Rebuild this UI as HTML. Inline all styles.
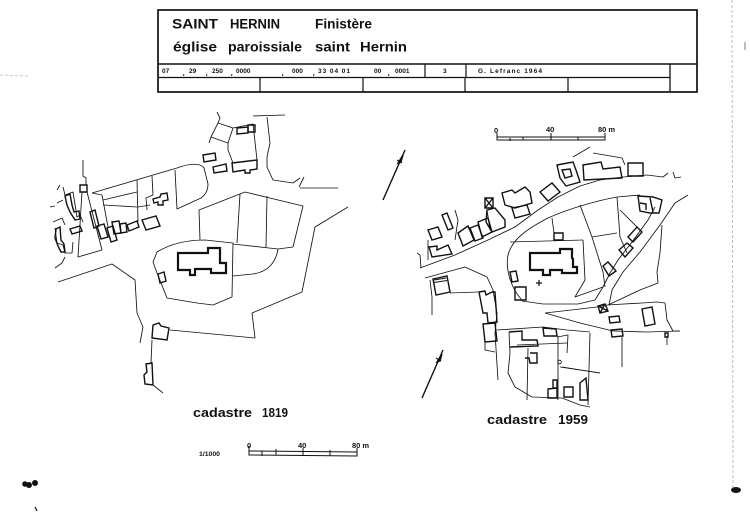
<!DOCTYPE html>
<html><head><meta charset="utf-8"><style>
html,body{margin:0;padding:0;background:#fff;}
svg{display:block;}
text{font-family:"Liberation Sans",sans-serif;fill:#111;}
</style></head><body>
<svg width="750" height="512" viewBox="0 0 750 512" xmlns="http://www.w3.org/2000/svg">
<rect width="750" height="512" fill="#fff"/>

<!-- margin marks -->
<line x1="732" y1="0" x2="733" y2="488" stroke="#bbb" stroke-width="1" stroke-dasharray="3,2"/>
<ellipse cx="736" cy="490" rx="5" ry="3" fill="#111"/>
<line x1="745" y1="42" x2="745" y2="50" stroke="#555" stroke-width="0.8"/>
<line x1="0" y1="75" x2="28" y2="76" stroke="#bbb" stroke-width="0.8" stroke-dasharray="3,2"/>
<circle cx="25" cy="484" r="2.8" fill="#111"/><circle cx="29" cy="485" r="3" fill="#111"/><circle cx="35" cy="483" r="3" fill="#111"/>
<line x1="35" y1="507" x2="37" y2="511" stroke="#111" stroke-width="1.2"/>

<!-- header box -->
<g fill="none" stroke="#111">
<rect x="158" y="10" width="539" height="82" stroke-width="1.7"/>
<line x1="158" y1="64" x2="697" y2="64" stroke-width="1.5"/>
<line x1="158" y1="77.5" x2="670" y2="77.5" stroke-width="1.3"/>
<line x1="670" y1="64" x2="670" y2="92" stroke-width="1.3"/>
<line x1="425" y1="64" x2="425" y2="77.5" stroke-width="1.2"/>
<line x1="466" y1="64" x2="466" y2="77.5" stroke-width="1.2"/>
<line x1="260" y1="77.5" x2="260" y2="92" stroke-width="1.2"/>
<line x1="363" y1="77.5" x2="363" y2="92" stroke-width="1.2"/>
<line x1="465" y1="77.5" x2="465" y2="92" stroke-width="1.2"/>
<line x1="568" y1="77.5" x2="568" y2="92" stroke-width="1.2"/>
</g>
<g font-size="13.5" font-weight="bold">
<text x="172" y="28.5" textLength="46" lengthAdjust="spacingAndGlyphs">SAINT</text>
<text x="230" y="28.5" textLength="50" lengthAdjust="spacingAndGlyphs">HERNIN</text>
<text x="315" y="28.5" textLength="57" lengthAdjust="spacingAndGlyphs">Finistère</text>
<text x="173" y="51.5" textLength="44" lengthAdjust="spacingAndGlyphs">église</text>
<text x="228" y="51.5" textLength="74" lengthAdjust="spacingAndGlyphs">paroissiale</text>
<text x="315" y="51.5" textLength="35" lengthAdjust="spacingAndGlyphs">saint</text>
<text x="360" y="51.5" textLength="47" lengthAdjust="spacingAndGlyphs">Hernin</text>
</g>
<g font-size="6.5" font-weight="bold">
<text x="162" y="73">07</text>
<text x="189" y="73">29</text>
<text x="212" y="73">250</text>
<text x="236" y="73">0000</text>
<text x="292" y="73">000</text>
<text x="318" y="73" textLength="32" lengthAdjust="spacing">33 04 01</text>
<text x="374" y="73">00</text>
<text x="395" y="73">0001</text>
<text x="443" y="73">3</text>
<text x="478" y="73" textLength="64" lengthAdjust="spacing">G. Lefranc  1964</text>
</g>
<g stroke="#111" stroke-width="0.9">
<line x1="184" y1="74" x2="183.5" y2="76"/><line x1="207" y1="74" x2="206.5" y2="76"/><line x1="232" y1="74" x2="231.5" y2="76"/>
<line x1="283" y1="74" x2="282.5" y2="76"/><line x1="314" y1="74" x2="313.5" y2="76"/><line x1="389" y1="74" x2="388.5" y2="76"/>
</g>

<!-- LEFT MAP 1819 -->
<g fill="none" stroke="#111" stroke-width="0.85" stroke-linejoin="round">
<!-- top right cluster -->
<path d="M217,112 L220,118 L218,123 L211,137 L209,143"/>
<path d="M218,123 L233,128 L228,143 L211,137"/>
<path d="M233,128 L253,124 L257,160 L233,163 L228,150 L228,143"/>
<path d="M253,116 L285,115"/>
<path d="M267,117 L270,143 L267,157 L267,167 L273,180 L293,183 L300,178"/>
<path d="M304,177 L299,187 M300,188 L338,188"/>
<!-- main parcels -->
<path d="M92,193 L177,168 C190,163 201,163 204,168 L208,184 Q208,193 201,198 L177,209 L175,170"/>
<path d="M103,200 L137,192"/>
<path d="M103,205 L137,207"/>
<path d="M137,180 L138,222"/>
<path d="M152,176 L153,195 L146,198 L147,210"/>
<path d="M138,207 L150,205"/>
<!-- strip -->
<path d="M82,192 L78,257 L102,250 L87,192"/>
<path d="M92,193 L102,195 L108,227"/>
<path d="M83,168 L83,176 L86,178 L86,185"/>
<path d="M83,160 L83,168"/>
<!-- far left -->
<path d="M63,187 L65,195 L73,192 L77,217 L80,215 L83,222"/>
<path d="M57,203 L63,200 M53,222 L62,218 L65,225"/>
<path d="M55,228 L57,243 L63,245 L65,253 L72,253 L73,242"/>
<path d="M65,257 L62,263 L55,268"/>
<path d="M57,190 L60,185 M50,207 L55,206"/>
<!-- church parcel -->
<path d="M157,252 C170,244 185,240 205,240 L233,243 L232,297 L213,305 L197,303 L167,298 L157,273 L153,262 Z"/>
<path d="M233,244 L278,249 C276,262 268,272 253,274 L233,276"/>
<path d="M200,240 L199,210 L245,192 L303,206 L293,247 L278,249"/>
<path d="M240,194 L237,243 M267,196 L266,247"/>
<!-- roads -->
<path d="M58,282 L112,264 L135,280 L137,313 L143,327 L140,343"/>
<path d="M170,330 L255,338 L252,313 L302,292 L315,227 L348,207"/>
<path d="M152,340 L151,363"/>
<path d="M153,385 L163,393"/>
</g>
<g fill="none" stroke="#111" stroke-width="1.4" stroke-linejoin="miter">
<path d="M203,155 L215,153 L216,160 L204,162 Z"/>
<path d="M213,167 L226,164 L227,171 L214,173 Z"/>
<path d="M237,128 L248,127 L248,133 L237,134 Z"/>
<path d="M248,125 L255,125 L255,132 L248,132 Z"/>
<path d="M232,163 L257,160 L257,169 L250,170 L250,173 L245,173 L245,170 L233,172 Z"/>
<path d="M80,185 L87,185 L87,192 L80,192 Z"/>
<path d="M90,212 L95,210 L99,226 L94,228 Z"/>
<path d="M97,226 L104,224 L108,237 L101,239 Z"/>
<path d="M107,228 L113,226 L117,240 L111,242 Z"/>
<path d="M112,222 L119,221 L121,233 L114,234 Z"/>
<path d="M120,224 L126,223 L127,232 L121,233 Z"/>
<path d="M127,225 L137,221 L139,227 L129,231 Z"/>
<path d="M142,220 L156,216 L160,226 L146,230 Z"/>
<path d="M153,199 L160,197 L161,194 L167,193 L168,200 L163,201 L163,205 L158,205 L158,202 L154,203 Z"/>
<path d="M70,229 L80,226 L82,231 L72,234 Z"/>
<path d="M65,196 L70,194 L72,205 L74,212 L79,211 L80,219 L75,220 L70,212 L67,205 Z"/>
<path d="M56,229 L60,227 L61,240 L64,244 L65,252 L61,252 L58,246 L55,238 Z"/>
<path d="M158,274 L164,272 L166,281 L160,283 Z"/>
<path d="M153,325 L159,323 L161,326 L169,328 L167,340 L152,338 Z"/>
<path d="M146,364 L152,363 L153,385 L145,384 L144,375 L147,372 Z"/>
</g>
<path d="M178,253 L208,253 L208,248 L220,248 L220,263 L226,263 L226,273 L211,273 L211,269 L195,269 L195,275 L190,275 L190,270 L178,270 Z" fill="none" stroke="#111" stroke-width="2.2"/>

<!-- RIGHT MAP 1959 -->
<g fill="none" stroke="#111" stroke-width="0.85" stroke-linejoin="round">
<!-- upper street -->
<path d="M420,268 L455,255 L488,240 L515,227 L538,210 L558,197 L580,186 L600,180 L623,177 L647,175 L663,177 L668,173"/>
<path d="M673,172 L675,178 L681,177"/>
<path d="M573,157 L590,147"/>
<path d="M593,153 L622,158 L625,165"/>
<path d="M417,253 L420,255 L421,268"/>
<path d="M428,240 L428,260"/>
<path d="M455,210 L458,220 L455,240"/>
<path d="M487,210 L490,230"/>
<!-- enclosure -->
<path d="M522,300 C512,290 505,270 508,255 C512,240 525,230 548,218 C570,208 600,200 617,197 L640,195"/>
<path d="M510,242 L583,240"/>
<path d="M552,218 L554,233"/>
<path d="M580,205 L592,237 L603,272 L605,287"/>
<path d="M592,237 L617,233"/>
<path d="M617,197 L620,237 L627,253"/>
<path d="M620,210 L640,230"/>
<path d="M583,240 L585,280 L575,297 L603,287"/>
<path d="M522,301 L543,304 L578,304 L595,300"/>
<!-- diagonal road -->
<path d="M688,195 L675,203 L660,225 L640,252 L623,272 L612,290 L609,305"/>
<path d="M655,207 L648,220 L632,242 L618,260 L610,273 L603,287 L595,300"/>
<path d="M662,225 L660,253 L657,272 L658,283 L640,290 L608,305"/>
<!-- lower street -->
<path d="M545,313 L580,309 L597,307 L607,305"/>
<path d="M545,313 L580,323 L613,331 L647,332 L680,331"/>
<path d="M497,330 L543,327 L567,330 L590,332"/>
<path d="M607,305 L642,303 L657,302 L665,303 L667,320 L673,331 L680,331"/>
<path d="M667,337 L667,345 M622,337 L622,367 M590,333 L588,405 M560,367 L600,373"/>
<!-- left of right map -->
<path d="M425,278 L465,267 L487,277 L493,290 L497,313 L495,333 L498,380"/>
<path d="M430,280 L432,297 L432,315"/>
<path d="M450,293 L478,292"/>
<path d="M485,340 L485,350 L495,352"/>
<!-- bottom block -->
<path d="M509,332 L510,353 L508,373 L515,387 L532,397 L562,398 L580,405 L590,407"/>
<path d="M517,345 L567,343"/>
<path d="M528,348 L527,400"/>
<path d="M558,337 L558,400"/>
<path d="M557,337 L568,335 L567,353"/>
<path d="M562,367 L600,373"/>
<circle cx="559.5" cy="362" r="1.8"/>
<!-- scale bar top -->
</g>
<g fill="none" stroke="#111" stroke-width="1.4" stroke-linejoin="miter">
<!-- upper buildings -->
<path d="M583,165 L601,162 L603,169 L620,167 L622,178 L584,180 Z"/>
<path d="M628,163 L643,163 L643,176 L628,176 Z"/>
<path d="M557,165 L573,162 L576,170 L580,182 L566,186 L560,178 Z"/>
<path d="M562,170 L570,169 L572,176 L565,178 Z"/>
<path d="M540,192 L552,183 L560,192 L548,201 Z"/>
<path d="M502,193 L512,190 L515,193 L525,187 L530,192 L532,203 L515,208 L505,205 Z"/>
<path d="M512,208 L527,205 L530,214 L515,218 Z"/>
<path d="M485,198 L493,198 L493,208 L485,208 Z M485,198 L493,208 M493,198 L485,208"/>
<path d="M487,210 L495,208 L505,220 L505,227 L492,232 L486,222 Z"/>
<path d="M478,222 L488,218 L492,232 L482,237 Z"/>
<path d="M470,228 L478,225 L483,238 L475,241 Z"/>
<path d="M458,233 L468,226 L474,240 L463,246 Z"/>
<path d="M442,215 L447,213 L453,228 L448,230 Z"/>
<path d="M428,230 L438,227 L442,237 L432,240 Z"/>
<path d="M429,247 L437,246 L437,250 L448,245 L452,254 L432,257 Z"/>
<!-- enclosure buildings -->
<path d="M554,233 L563,233 L563,240 L554,240 Z"/>
<path d="M510,272 L516,271 L518,281 L512,282 Z"/>
<path d="M515,287 L526,287 L526,300 L515,300 Z"/>
<path d="M628,237 L637,227 L642,232 L633,242 Z"/>
<path d="M619,250 L627,243 L633,248 L625,257 Z"/>
<path d="M603,266 L608,262 L616,271 L609,276 Z"/>
<path d="M638,196 L653,197 L662,200 L659,213 L650,213 L640,211 Z"/>
<path d="M650,198 L653,212 M640,203 L646,204 L646,210"/>
<!-- lower right buildings -->
<path d="M598,306 L605,304 L608,311 L600,313 Z M598,306 L608,311 M605,304 L600,313"/>
<path d="M609,317 L619,316 L620,322 L610,323 Z"/>
<path d="M611,330 L622,329 L623,336 L612,337 Z"/>
<path d="M642,309 L652,307 L655,324 L645,326 Z"/>
<path d="M665,333 L668,333 L668,337 L665,337 Z"/>
<!-- left buildings -->
<path d="M433,279 L447,276 L450,292 L436,295 Z"/>
<path d="M479,292 L485,291 L486,295 L492,292 L495,292 L497,322 L488,323 L487,313 L483,313 Z"/>
<path d="M483,324 L495,323 L497,341 L485,342 Z"/>
<!-- bottom buildings -->
<path d="M509,332 L522,331 L522,340 L537,340 L538,346 L510,347"/>
<path d="M543,328 L556,329 L557,336 L544,336 Z"/>
<path d="M530,353 L537,353 L537,363 L530,363 L529,358 L525,358"/>
<path d="M553,380 L557,380 L557,388 L553,388 Z"/>
<path d="M548,389 L557,388 L557,398 L548,398 Z"/>
<path d="M564,387 L573,387 L573,397 L564,397 Z"/>
<path d="M580,383 L586,378 L588,400 L580,400 Z"/>
</g>
<g stroke="#111" stroke-width="0.9">
<line x1="434" y1="280" x2="446" y2="278"/><line x1="434" y1="282.5" x2="447" y2="280.5"/>
</g>
<path d="M530,253 L560,253 L560,249 L572,249 L572,258 L573,259 L573,267 L577,267 L577,273 L562,273 L562,270 L550,270 L550,275 L543,275 L543,270 L530,270 Z" fill="none" stroke="#111" stroke-width="2.2"/>
<path d="M539,280 L539,286 M536,283 L542,283" stroke="#111" stroke-width="1.2"/>

<!-- north arrows -->
<g stroke="#111" stroke-width="1.4" fill="#111">
<line x1="383" y1="200" x2="405" y2="150"/>
<path d="M398,163 L403,155 L401,162 Z"/>
<line x1="397" y1="160" x2="402" y2="163" stroke-width="1.1"/>
<line x1="422" y1="398" x2="443" y2="350"/>
<path d="M437,362 L442,354 L440,361 Z"/>
<line x1="436" y1="358" x2="441" y2="361" stroke-width="1.1"/>
</g>

<!-- scale bar top right -->
<g fill="none" stroke="#111" stroke-width="1">
<path d="M497,137 L605,137 L605,140 L497,140 Z"/>
<path d="M497,133 L497,140 M523,137 L523,140 M551,133 L551,140 M578,137 L578,140 M605,133 L605,140 M510,138 L510,141"/>
</g>
<g font-size="7.5" font-weight="bold">
<text x="494" y="133">0</text>
<text x="546" y="132">40</text>
<text x="598" y="132">80 m</text>
</g>

<!-- scale bar bottom -->
<g fill="none" stroke="#111" stroke-width="1">
<path d="M249,451 L357,452 L357,456 L249,455 Z"/>
<path d="M249,446 L249,455 M262,451 L262,456 M276,449 L276,455 M303,448 L303,455 M330,450 L330,456 M357,448 L357,456"/>
</g>
<g font-size="7.5" font-weight="bold">
<text x="247" y="448">0</text>
<text x="298" y="448">40</text>
<text x="352" y="448">80 m</text>
<text x="199" y="456" font-size="6.5" textLength="21" lengthAdjust="spacingAndGlyphs">1/1000</text>
</g>

<!-- captions -->
<g font-size="13" font-weight="bold">
<text x="193" y="417" textLength="59" lengthAdjust="spacingAndGlyphs">cadastre</text>
<text x="262" y="417" textLength="26" lengthAdjust="spacingAndGlyphs">1819</text>
<text x="487" y="424" textLength="60" lengthAdjust="spacingAndGlyphs">cadastre</text>
<text x="558" y="424" textLength="30" lengthAdjust="spacingAndGlyphs">1959</text>
</g>
</svg>
</body></html>
